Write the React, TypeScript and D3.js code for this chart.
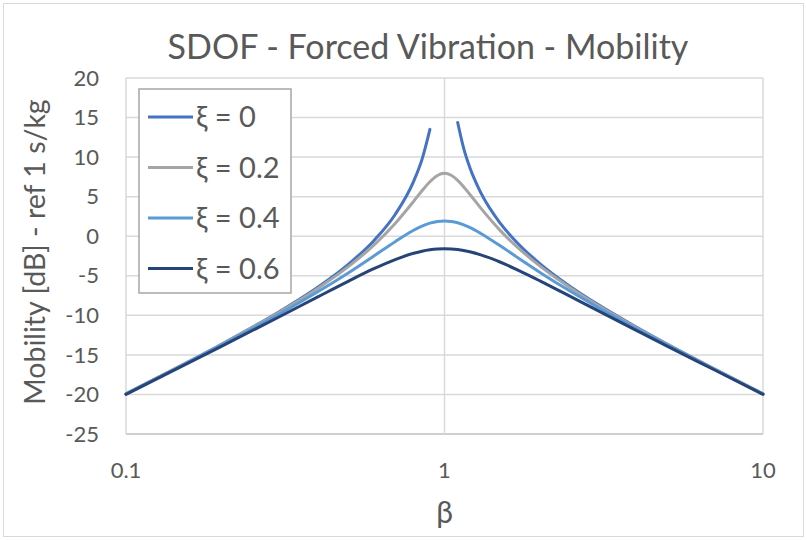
import * as d3 from "d3";
import { useEffect, useRef } from "react";

// beta sample points
const betas = [0.1, 0.15, 0.2, 0.3, 0.4, 0.5, 0.6, 0.7, 0.8, 0.85, 0.9, 0.95, 1, 1.05, 1.1, 1.2, 1.3, 1.5, 1.7, 2, 2.5, 3, 4, 5, 7, 10];

// undamped curve is broken around resonance
const betasZeroLeft = [0.1, 0.15, 0.2, 0.3, 0.4, 0.5, 0.6, 0.7, 0.8, 0.85, 0.9];
const zeroLeft = [-19.91, -16.28, -13.62, -9.64, -6.45, -3.52, -0.56, 2.75, 6.94, 9.72, 13.51];
const betasZeroRight = [1.1, 1.15, 1.2, 1.3, 1.5, 1.7, 2, 2.5, 3, 4, 5, 7, 10];
const zeroRight = [14.38, 11.04, 8.72, 5.5, 1.58, -0.92, -3.52, -6.44, -8.52, -11.48, -13.63, -16.72, -19.91];

const damp02 = [-19.92, -16.3, -13.65, -9.71, -6.6, -3.82, -1.13, 1.61, 4.41, 5.74, 6.89, 7.68, 7.96, 7.71, 7.07, 5.31, 3.55, 0.68, -1.45, -3.82, -6.6, -8.62, -11.53, -13.66, -16.74, -19.92];
const damp04 = [-19.94, -16.35, -13.74, -9.93, -7.03, -4.61, -2.5, -0.69, 0.75, 1.27, 1.65, 1.87, 1.94, 1.87, 1.7, 1.11, 0.35, -1.25, -2.73, -4.61, -7.03, -8.89, -11.67, -13.74, -16.78, -19.94];
const damp06 = [-19.98, -16.43, -13.89, -10.27, -7.67, -5.67, -4.11, -2.95, -2.15, -1.89, -1.72, -1.62, -1.58, -1.61, -1.69, -1.97, -2.36, -3.29, -4.28, -5.67, -7.67, -9.32, -11.9, -13.89, -16.85, -19.98];

const seriesNames = ["ξ = 0", "ξ = 0.2", "ξ = 0.4", "ξ = 0.6"];
const seriesColors = ["#4472c4", "#a5a5a5", "#5b9bd5", "#264478"];

const xTicks = [0.1, 1, 10];
const yTicks = [-25, -20, -15, -10, -5, 0, 5, 10, 15, 20];

export default function App() {
  const svgRef = useRef(null);

  useEffect(() => {
    const W = 807;
    const H = 540;
    const m = { left: 126, right: 44, top: 78, bottom: 106 };
    const font = "Lato, 'Open Sans', sans-serif";
    const textColor = "#595959";

    const svg = d3.select(svgRef.current).attr("width", W).attr("height", H);
    svg.selectAll("*").remove();

    svg
      .append("rect")
      .attr("x", 3.5)
      .attr("y", 3.5)
      .attr("width", W - 7)
      .attr("height", H - 7)
      .attr("fill", "#fff")
      .attr("stroke", "#d9d9d9");

    const x = d3.scaleLog().domain([0.1, 10]).range([m.left, W - m.right]);
    const y = d3.scaleLinear().domain([-25, 20]).range([H - m.bottom, m.top]);

    // grid
    svg
      .append("g")
      .selectAll("line")
      .data(yTicks)
      .join("line")
      .attr("x1", m.left)
      .attr("x2", W - m.right)
      .attr("y1", (d) => y(d))
      .attr("y2", (d) => y(d))
      .attr("stroke", (d) => (d === -25 ? "#bfbfbf" : "#d9d9d9"))
      .attr("stroke-width", 1.5);

    svg
      .append("g")
      .selectAll("line")
      .data(xTicks)
      .join("line")
      .attr("x1", (d) => x(d))
      .attr("x2", (d) => x(d))
      .attr("y1", m.top)
      .attr("y2", H - m.bottom)
      .attr("stroke", "#d9d9d9")
      .attr("stroke-width", 1.5);

    // tick labels
    svg
      .append("g")
      .selectAll("text")
      .data(yTicks)
      .join("text")
      .attr("x", m.left - 27)
      .attr("y", (d) => y(d))
      .attr("dy", "0.35em")
      .attr("text-anchor", "end")
      .attr("font-family", font)
      .attr("font-size", 22)
      .attr("fill", textColor)
      .text((d) => d);

    svg
      .append("g")
      .selectAll("text")
      .data(xTicks)
      .join("text")
      .attr("x", (d) => x(d))
      .attr("y", H - m.bottom + 44)
      .attr("text-anchor", "middle")
      .attr("font-family", font)
      .attr("font-size", 22)
      .attr("fill", textColor)
      .text((d) => d);

    // titles
    svg
      .append("text")
      .attr("x", 428)
      .attr("y", 59)
      .attr("text-anchor", "middle")
      .attr("font-family", font)
      .attr("font-size", 34)
      .attr("fill", textColor)
      .text("SDOF - Forced Vibration - Mobility");

    svg
      .append("text")
      .attr("x", x(1))
      .attr("y", 523)
      .attr("text-anchor", "middle")
      .attr("font-family", font)
      .attr("font-size", 30)
      .attr("fill", textColor)
      .text("β");

    svg
      .append("text")
      .attr("transform", `translate(45, 252) rotate(-90)`)
      .attr("text-anchor", "middle")
      .attr("font-family", font)
      .attr("font-size", 28.5)
      .attr("fill", textColor)
      .text("Mobility [dB] - ref 1 s/kg");

    // lines
    const line = d3
      .line<[number, number]>()
      .x((d) => x(d[0]))
      .y((d) => y(d[1]))
      .curve(d3.curveMonotoneX);

    const zip = (bs: number[], vs: number[]) => bs.map((b, i) => [b, vs[i]] as [number, number]);

    const series = [
      [zip(betasZeroLeft, zeroLeft), zip(betasZeroRight, zeroRight)],
      [zip(betas, damp02)],
      [zip(betas, damp04)],
      [zip(betas, damp06)],
    ];

    series.forEach((segs, i) => {
      segs.forEach((seg) => {
        svg
          .append("path")
          .datum(seg)
          .attr("d", line)
          .attr("fill", "none")
          .attr("stroke", seriesColors[i])
          .attr("stroke-width", 3)
          .attr("stroke-linecap", "round");
      });
    });

    // legend
    const lg = svg.append("g").attr("transform", "translate(139, 89)");
    lg.append("rect")
      .attr("width", 152)
      .attr("height", 204)
      .attr("fill", "#fff")
      .attr("stroke", "#a6a6a6")
      .attr("stroke-width", 1.5);
    seriesNames.forEach((name, i) => {
      const ry = 28 + i * 50.5;
      lg.append("line")
        .attr("x1", 9)
        .attr("x2", 54)
        .attr("y1", ry)
        .attr("y2", ry)
        .attr("stroke", seriesColors[i])
        .attr("stroke-width", 3);
      lg.append("text")
        .attr("x", 57)
        .attr("y", ry)
        .attr("dy", "0.35em")
        .attr("font-family", font)
        .attr("font-size", 29)
        .attr("fill", textColor)
        .text(name);
    });
  }, []);

  return (
    <svg
      ref={svgRef}
      style={{ position: "absolute", left: 0, top: 0, display: "block" }}
    ></svg>
  );
}
